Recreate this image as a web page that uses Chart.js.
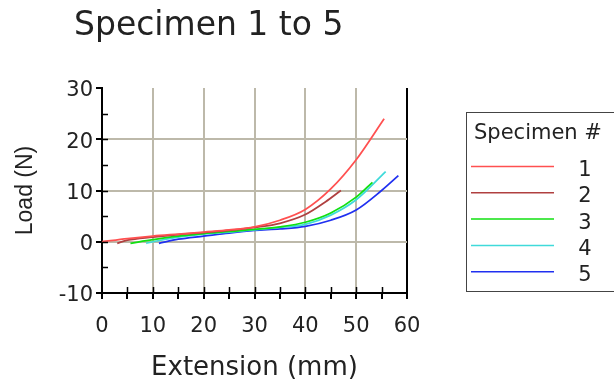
<!DOCTYPE html>
<html>
<head>
<meta charset="utf-8">
<script src="https://cdn.jsdelivr.net/npm/chart.js@4.4.1/dist/chart.umd.min.js"></script>
<style>
  html, body { margin: 0; padding: 0; background: #fff; }
  canvas { display: block; }
</style>
</head>
<body>
<canvas id="chart" width="614" height="384"></canvas>
<script>
// ── Data ──────────────────────────────────────────────────────────────
const SPECIMENS = ["1", "2", "3", "4", "5"];
const COLORS = ["#ff5050", "#b04040", "#10e010", "#40dada", "#2030f0"];

const spec1 = [[0, 0], [5, 0.6], [10, 1.1], [15, 1.5], [20, 1.9], [25, 2.3], [30, 2.9], [35, 4.2], [40, 6.3], [45, 10.3], [50, 16], [55.5, 24]];
const spec2 = [[3, -0.3], [5, 0.3], [10, 0.9], [15, 1.4], [20, 1.8], [25, 2.2], [30, 2.8], [35, 3.6], [40, 5.3], [44, 7.8], [47, 10]];
const spec3 = [[5.6, -0.3], [10, 0.4], [15, 1.1], [20, 1.6], [25, 2.0], [30, 2.4], [35, 2.9], [40, 3.8], [45, 5.6], [50, 8.7], [53.2, 11.6]];
const spec4 = [[8.7, -0.3], [10, 0], [15, 0.9], [20, 1.5], [25, 1.9], [30, 2.3], [35, 2.8], [40, 3.4], [45, 5.2], [50, 8.2], [55.8, 13.7]];
const spec5 = [[11.2, -0.3], [15, 0.5], [20, 1.1], [25, 1.7], [30, 2.2], [35, 2.5], [40, 3.0], [45, 4.2], [50, 6.2], [55, 10.0], [58.3, 12.9]];
const SERIES = [spec1, spec2, spec3, spec4, spec5];

const X_MIN = 0, X_MAX = 60, Y_MIN = -10, Y_MAX = 30;
const TICK_STEP = 5;

const FONT = "'DejaVu Sans', Verdana, sans-serif";
const GRID = "#bdb9aa";

// Title, legend box and the inner half of the axis tick marks.
const decor = {
  id: "decor",
  afterDraw(chart) {
    const ctx = chart.ctx;
    const { x, y } = chart.scales;
    const area = chart.chartArea;
    ctx.save();

    // tick marks cross the axis lines
    ctx.strokeStyle = "#000";
    ctx.lineWidth = 1.5;
    ctx.beginPath();
    for (let v = X_MIN + TICK_STEP; v < X_MAX; v += TICK_STEP) {
      const px = Math.round(x.getPixelForValue(v)) + 0.5;
      ctx.moveTo(px, area.bottom);
      ctx.lineTo(px, area.bottom - 6);
    }
    for (let v = Y_MIN + TICK_STEP; v < Y_MAX; v += TICK_STEP) {
      const py = Math.round(y.getPixelForValue(v)) + 0.5;
      ctx.moveTo(area.left, py);
      ctx.lineTo(area.left + 6, py);
    }
    ctx.stroke();

    ctx.fillStyle = "#222";
    ctx.font = "33px " + FONT;
    ctx.textAlign = "left";
    ctx.textBaseline = "alphabetic";
    ctx.fillText("Specimen 1 to 5", 74, 35);

    // legend box
    ctx.strokeStyle = "#444";
    ctx.lineWidth = 1;
    ctx.strokeRect(466.5, 112.5, 160, 179);
    ctx.font = "21px " + FONT;
    ctx.fillText("Specimen #", 474, 139);
    ctx.textBaseline = "middle";
    chart.data.datasets.forEach((ds, i) => {
      const ly = 166.5 + i * 26.3;
      ctx.strokeStyle = ds.borderColor;
      ctx.lineWidth = 1.5;
      ctx.beginPath();
      ctx.moveTo(471, ly);
      ctx.lineTo(554, ly);
      ctx.stroke();
      ctx.fillStyle = "#222";
      ctx.textAlign = "center";
      ctx.fillText(ds.label, 585, ly + 4);
    });
    ctx.restore();
  },
};

new Chart(document.getElementById("chart"), {
  type: "scatter",
  data: {
    datasets: SERIES.map((pts, i) => ({
      label: SPECIMENS[i],
      data: pts.map(([px, py]) => ({ x: px, y: py })),
      showLine: true,
      borderColor: COLORS[i],
      backgroundColor: COLORS[i],
      borderWidth: 1.75,
      pointRadius: 0,
      cubicInterpolationMode: "monotone",
    })),
  },
  options: {
    responsive: false,
    animation: false,
    layout: { padding: { left: 0, top: 88, right: 207, bottom: 0 } },
    plugins: { legend: { display: false }, tooltip: { enabled: false } },
    scales: {
      x: {
        type: "linear",
        min: X_MIN,
        max: X_MAX,
        afterFit: (s) => { s.height = 91; },
        ticks: {
          stepSize: TICK_STEP,
          maxRotation: 0,
          autoSkip: false,
          color: "#222",
          padding: 15,
          font: { family: FONT, size: 21 },
          callback: (v) => (v % 10 === 0 ? v : ""),
        },
        grid: {
          color: (c) => (c.tick.value === X_MAX ? "#000" : c.tick.value % 10 === 0 ? GRID : "rgba(0,0,0,0)"),
          lineWidth: 2,
          tickColor: "#000",
          tickLength: 6,
        },
        border: { display: true, color: "#000", width: 2 },
        title: {
          display: true,
          text: "Extension (mm)",
          color: "#222",
          font: { family: FONT, size: 26 },
          padding: { top: 0, bottom: 0 },
        },
      },
      y: {
        type: "linear",
        min: Y_MIN,
        max: Y_MAX,
        afterFit: (s) => { s.width = 102; },
        ticks: {
          stepSize: TICK_STEP,
          color: "#222",
          padding: 3,
          labelOffset: 3,
          font: { family: FONT, size: 21 },
          callback: (v) => (v % 10 === 0 ? v : ""),
        },
        grid: {
          color: (c) => (c.tick.value === Y_MAX ? "rgba(0,0,0,0)" : c.tick.value % 10 === 0 ? GRID : "rgba(0,0,0,0)"),
          lineWidth: 2,
          tickColor: "#000",
          tickLength: 6,
        },
        border: { display: true, color: "#000", width: 2 },
        title: {
          display: true,
          text: "Load (N)",
          color: "#222",
          font: { family: "'Liberation Sans', Arial, sans-serif", size: 23 },
          padding: { top: 12, bottom: 0 },
        },
      },
    },
  },
  plugins: [decor],
});
</script>
</body>
</html>
